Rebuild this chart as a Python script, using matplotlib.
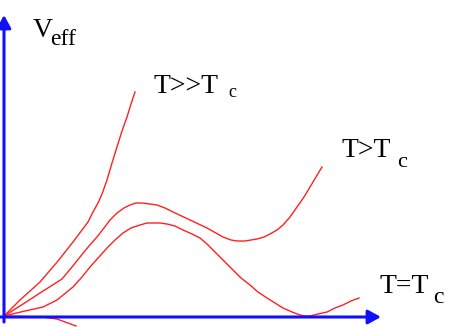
import matplotlib
matplotlib.use("Agg")
import matplotlib.pyplot as plt

# curves, in pixel coordinates (x right, y down)
hot_x = [4, 20, 40, 58, 73, 88, 93, 98, 102, 107, 112, 117, 122, 127, 131, 135]
hot_y = [316, 300, 282, 261, 242, 222, 212, 203, 194, 180, 163, 147, 131, 117, 104, 92]

mid_x = [4, 20, 40, 62, 72, 80, 89, 97, 104, 110, 117, 124, 130, 136, 142, 150, 157,
         165, 173, 190, 207, 223, 231, 237, 245, 251, 257, 264, 270, 277, 283, 290,
         297, 304, 310, 316, 322]
mid_y = [316, 306, 293, 279, 267, 257, 246, 237, 228, 220, 213, 208, 205, 203, 203,
         204, 205, 208, 212, 220, 228, 237, 240, 241, 241, 240, 239, 237, 234, 230,
         225, 217, 207, 197, 187, 177, 167]

crit_x = [4, 25, 43, 57, 73, 82, 90, 99, 107, 115, 123, 131, 140, 147, 153, 160, 167,
          175, 183, 192, 200, 207, 213, 223, 233, 241, 250, 258, 267, 275, 283, 292,
          300, 305, 310, 318, 327, 335, 343, 351, 359]
crit_y = [316, 311, 307, 300, 287, 277, 267, 257, 248, 240, 233, 228, 225, 223, 223,
          223, 224, 226, 230, 234, 238, 244, 250, 260, 270, 278, 285, 292, 298, 303,
          308, 312, 315, 316, 316, 314, 312, 308, 305, 301, 298]

tail_x = [4, 42, 57, 76]
tail_y = [316, 317, 319, 326]

labels = ["T>>T", "T>T", "T=T"]
label_pos = [(154, 93), (342, 157), (380, 293)]
sub_pos = [(228, 97), (397, 167), (433, 303)]
sub_size = [13, 16, 17]

fig = plt.figure(figsize=(4.57, 3.27), dpi=100)
ax = fig.add_axes([0, 0, 1, 1])
ax.set_xlim(0, 457)
ax.set_ylim(327, 0)
ax.axis('off')

red = '#ff2020'
for xs, ys in [(hot_x, hot_y), (mid_x, mid_y), (crit_x, crit_y), (tail_x, tail_y)]:
    ax.plot(xs, ys, color=red, lw=1.0, solid_joinstyle='round')

# axes with arrows
arrow = dict(arrowstyle='-|>,head_length=0.55,head_width=0.3', color='#1010ff',
             lw=2.2, mutation_scale=14, shrinkA=0, shrinkB=0)
ax.annotate('', xy=(4, 15), xytext=(4, 322), arrowprops=arrow)
ax.annotate('', xy=(381, 317), xytext=(0, 317), arrowprops=arrow)

serif = 'Liberation Serif'
ax.text(33, 37, 'V', fontsize=20, family=serif, va='baseline')
ax.text(50, 45, 'eff', fontsize=17, family=serif, va='baseline')
for lab, (x, y), (sx, sy), s in zip(labels, label_pos, sub_pos, sub_size):
    ax.text(x, y, lab, fontsize=20, family=serif, va='baseline')
    ax.text(sx, sy, 'c', fontsize=s, family=serif, va='baseline')

fig.savefig('out.png', dpi=100)
